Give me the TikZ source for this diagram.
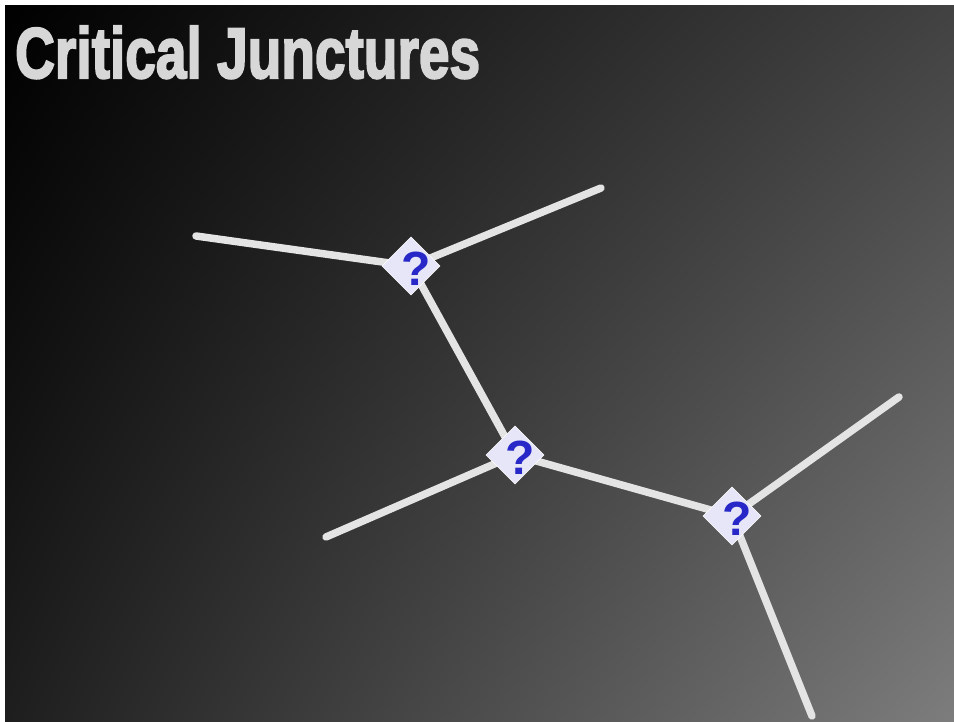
\documentclass[tikz,border=0pt]{standalone}
\usepackage{fontspec}
\setmainfont{Liberation Sans}
\newfontfamily\titlefont{Liberation Sans}[BoldFeatures={FakeBold=3}]
\usepackage{graphicx}
\usetikzlibrary{shadings}
\definecolor{bgTL}{RGB}{0,0,0}
\definecolor{bgTR}{RGB}{66,66,66}
\definecolor{bgBL}{RGB}{30,30,30}
\definecolor{bgBR}{RGB}{125,125,125}
\definecolor{branch}{RGB}{228,228,228}
\definecolor{juncfill}{RGB}{230,230,248}
\definecolor{qblue}{RGB}{40,40,200}
\definecolor{titlegray}{RGB}{215,215,215}
\tikzset{
  branchline/.style={draw=branch,line width=7.5pt,line cap=round},
  junction/.style={rectangle,draw=white,line width=0.6pt,fill=juncfill,minimum size=41pt,inner sep=0pt,rotate=45},
  qmark/.style={text=qblue,font=\fontsize{48}{48}\selectfont\bfseries,inner sep=0pt}
}
\begin{document}
\begin{tikzpicture}[x=1pt,y=1pt]
\useasboundingbox (0,0) rectangle (954,722);
\fill[white] (0,0) rectangle (954,722);
\shade[upper left=bgTL,upper right=bgTR,lower left=bgBL,lower right=bgBR] (5,0) rectangle (954,716);
\node[anchor=base west,inner sep=0pt,text=titlegray] (title) at (15,644) {\resizebox{465pt}{52pt}{\titlefont\bfseries Critical Junctures}};
% junctions positions
\coordinate (pA) at (411,456);
\coordinate (pB) at (515,267);
\coordinate (pC) at (732,206);
\coordinate (eA1) at (196,486);
\coordinate (eA2) at (601,534);
\coordinate (eB1) at (326,185);
\coordinate (eC1) at (899,325);
\coordinate (eC2) at (812,6);
\draw[branchline] (eA1) -- (pA) -- (eA2);
\draw[branchline] (pA) -- (pB) -- (pC);
\draw[branchline] (eB1) -- (pB);
\draw[branchline] (eC1) -- (pC) -- (eC2);
\node[junction] (jA) at (pA) {};
\node[junction] (jB) at (pB) {};
\node[junction] (jC) at (pC) {};
\node[qmark] (qA) at ([xshift=5pt,yshift=-3pt]jA.center) {?};
\node[qmark] (qB) at ([xshift=5pt,yshift=-3pt]jB.center) {?};
\node[qmark] (qC) at ([xshift=5pt,yshift=-3pt]jC.center) {?};
\end{tikzpicture}
\end{document}
